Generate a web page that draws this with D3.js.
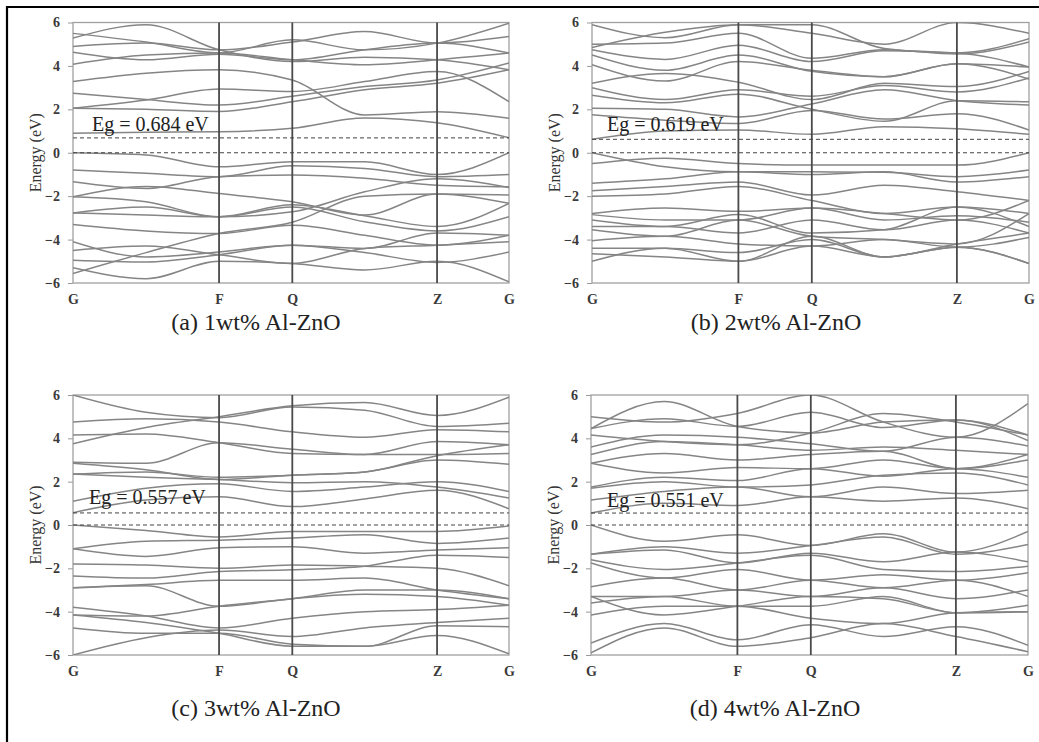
<!DOCTYPE html>
<html>
<head>
<meta charset="utf-8">
<script src="https://cdn.jsdelivr.net/npm/d3@7"></script>
<style>
  body { margin: 0; background: #fff; }
  svg text { font-family: "Liberation Serif", "Times New Roman", serif; }
</style>
</head>
<body>
<svg id="chart" width="1039" height="742"></svg>
<script>
// k-path and axis labels
const kNames = ["G", "F", "Q", "Z", "G"];
const kNodes = [0, 0.335, 0.503, 0.835, 1];
const kSamples = [0, 0.1675, 0.335, 0.503, 0.669, 0.835, 1];
const energyTicks = [-6, -4, -2, 0, 2, 4, 6];

const titles = ["(a) 1wt% Al-ZnO", "(b) 2wt% Al-ZnO", "(c) 3wt% Al-ZnO", "(d) 4wt% Al-ZnO"];
const gaps = [0.684, 0.619, 0.557, 0.551];

// band energies (eV) at kSamples
const bandsA = [
  [0.90, 0.95, 0.97, 1.13, 1.60, 1.38, 0.69],
  [2.05, 2.00, 1.90, 2.35, 2.90, 3.20, 3.82],
  [2.05, 2.43, 2.94, 2.82, 3.28, 3.74, 2.35],
  [2.74, 2.45, 2.20, 2.60, 3.05, 3.35, 4.13],
  [3.28, 3.66, 3.82, 3.35, 1.74, 1.89, 1.59],
  [4.08, 4.50, 4.60, 4.28, 4.05, 4.28, 4.59],
  [4.63, 4.28, 4.54, 4.28, 4.74, 5.05, 4.59],
  [4.90, 5.05, 4.74, 5.10, 5.58, 5.05, 5.35],
  [5.28, 5.90, 4.74, 4.20, 4.40, 4.28, 3.82],
  [5.50, 5.10, 4.60, 5.20, 4.74, 5.05, 5.97],
  [0.00, -0.10, -0.65, -0.41, -0.42, -1.00, 0.00],
  [-0.80, -0.95, -1.10, -0.60, -0.72, -1.10, -1.00],
  [-1.34, -1.65, -1.10, -1.03, -1.18, -1.50, -1.57],
  [-2.03, -1.55, -1.88, -2.26, -2.87, -1.90, -1.95],
  [-2.03, -2.26, -2.95, -2.72, -1.80, -1.20, -1.60],
  [-2.77, -2.50, -2.95, -2.40, -2.90, -3.40, -2.33],
  [-2.77, -2.87, -2.95, -2.50, -3.18, -3.60, -2.95],
  [-3.30, -3.60, -3.72, -3.34, -3.80, -4.26, -3.80],
  [-4.10, -4.80, -4.57, -4.26, -4.60, -5.05, -4.57],
  [-4.50, -4.30, -4.70, -5.10, -4.41, -4.26, -4.10],
  [-5.56, -4.60, -3.72, -3.20, -2.00, -1.90, -2.33],
  [-5.30, -5.80, -5.00, -5.10, -5.40, -5.00, -5.95],
  [-4.95, -5.03, -4.70, -4.26, -4.41, -3.70, -3.80]
];

const bandsB = [
  [0.62, 1.00, 1.05, 0.85, 1.20, 1.10, 0.85],
  [1.75, 1.50, 1.35, 1.95, 1.55, 1.80, 1.05],
  [2.05, 2.00, 1.65, 2.25, 2.90, 2.40, 2.20],
  [2.65, 2.30, 2.70, 2.00, 1.45, 2.40, 2.35],
  [3.00, 2.45, 2.90, 2.60, 3.10, 2.80, 3.45],
  [3.20, 3.65, 3.25, 2.45, 3.20, 3.05, 3.75],
  [4.05, 3.30, 4.20, 3.80, 3.50, 4.10, 3.95],
  [4.50, 3.80, 4.50, 3.75, 3.50, 4.10, 3.40],
  [4.75, 4.30, 4.95, 4.20, 4.70, 4.60, 3.95],
  [5.00, 5.05, 5.50, 4.35, 4.75, 4.55, 5.10],
  [4.85, 5.55, 5.90, 5.50, 5.00, 6.00, 5.50],
  [5.90, 5.30, 5.90, 5.90, 4.80, 4.60, 5.25],
  [0.00, -0.65, -0.88, -0.88, -0.90, -1.10, -0.80],
  [-0.50, -0.25, -0.50, -0.57, -0.57, -0.57, 0.00],
  [-1.40, -1.20, -0.88, -1.00, -0.88, -1.35, -1.10],
  [-1.75, -1.55, -1.35, -1.95, -1.50, -1.80, -2.20],
  [-2.00, -1.90, -1.55, -2.20, -2.80, -2.50, -2.80],
  [-2.80, -2.55, -2.70, -2.55, -3.10, -2.90, -3.20],
  [-2.85, -3.10, -3.10, -2.55, -2.80, -3.10, -2.20],
  [-3.10, -3.40, -2.85, -3.70, -3.55, -2.50, -3.40],
  [-3.40, -3.40, -3.70, -3.10, -3.55, -3.10, -3.70],
  [-3.55, -3.85, -3.10, -3.85, -4.00, -4.20, -2.80],
  [-4.05, -3.85, -4.20, -4.30, -4.00, -4.35, -3.90],
  [-4.40, -4.40, -4.60, -4.00, -4.80, -4.35, -5.10],
  [-4.65, -4.80, -5.00, -4.30, -4.80, -4.20, -3.70],
  [-5.00, -4.40, -5.00, -3.85, -4.80, -4.35, -5.10]
];

const bandsC = [
  [0.57, 1.15, 1.30, 0.85, 1.20, 1.60, 0.75],
  [1.10, 1.70, 1.90, 1.55, 1.75, 2.00, 1.55],
  [2.35, 2.20, 2.10, 1.95, 2.00, 1.75, 1.25],
  [2.85, 2.55, 2.10, 2.30, 2.45, 3.00, 2.80],
  [2.90, 2.85, 3.80, 3.50, 3.25, 3.25, 3.30],
  [3.75, 4.50, 5.00, 5.50, 5.65, 5.05, 5.90],
  [4.15, 4.20, 3.80, 3.30, 3.25, 3.85, 3.70],
  [4.75, 4.90, 4.75, 4.30, 4.05, 4.40, 4.30],
  [6.00, 5.20, 4.95, 5.45, 5.30, 4.55, 4.70],
  [2.35, 2.45, 2.20, 2.30, 2.45, 3.20, 3.70],
  [0.00, -0.25, -0.55, -0.30, -0.30, -0.30, -0.05],
  [-1.10, -0.75, -0.70, -0.60, -0.45, -0.85, -0.60],
  [-1.10, -1.45, -1.05, -1.00, -1.30, -1.15, -1.05],
  [-1.80, -1.85, -2.00, -1.85, -1.90, -2.00, -2.80],
  [-2.35, -2.45, -2.15, -2.07, -1.90, -1.40, -1.50],
  [-2.90, -2.75, -2.55, -2.55, -2.45, -3.00, -3.40],
  [-2.90, -2.80, -3.75, -3.40, -3.20, -3.30, -3.70],
  [-3.80, -4.20, -4.75, -4.30, -4.00, -3.90, -3.70],
  [-4.15, -4.20, -3.75, -3.40, -3.00, -3.00, -3.40],
  [-4.75, -5.00, -5.00, -5.50, -5.60, -4.65, -4.70],
  [-6.00, -5.20, -4.85, -5.15, -4.75, -4.50, -4.30],
  [-4.15, -4.50, -5.00, -5.60, -5.60, -5.10, -5.95]
];

const bandsD = [
  [0.55, 1.00, 0.90, 1.30, 1.10, 1.25, 0.75],
  [1.15, 1.55, 1.75, 1.30, 1.75, 1.45, 1.60],
  [1.70, 2.00, 1.75, 1.85, 2.30, 2.40, 1.85],
  [1.75, 2.20, 2.05, 2.60, 2.25, 2.60, 2.20],
  [2.85, 2.40, 2.65, 2.60, 3.00, 2.60, 3.25],
  [2.85, 3.30, 3.00, 3.25, 3.40, 2.60, 3.00],
  [3.25, 3.85, 3.70, 3.45, 3.60, 3.45, 3.25],
  [3.60, 4.15, 4.05, 3.75, 3.40, 4.05, 3.65],
  [4.15, 3.85, 3.70, 4.25, 5.15, 4.75, 4.15],
  [4.45, 4.90, 4.55, 5.20, 4.50, 4.85, 3.90],
  [5.00, 4.75, 5.15, 6.00, 4.75, 4.05, 5.60],
  [4.45, 5.70, 4.55, 4.25, 4.75, 4.85, 4.15],
  [0.00, -0.75, -0.45, -0.95, -0.40, -1.25, -0.30],
  [-1.35, -1.00, -1.30, -0.95, -0.55, -1.35, -0.90],
  [-1.35, -1.15, -1.75, -1.30, -1.70, -1.25, -1.70],
  [-1.60, -2.05, -1.75, -1.40, -2.05, -2.15, -1.90],
  [-1.75, -2.45, -2.05, -2.55, -2.30, -2.55, -2.20],
  [-2.85, -2.45, -3.00, -2.55, -2.90, -2.55, -3.30],
  [-3.30, -3.30, -3.00, -3.30, -2.90, -3.40, -3.00],
  [-3.60, -3.30, -3.75, -3.75, -3.30, -4.05, -3.70],
  [-4.15, -3.75, -3.75, -4.30, -4.55, -4.05, -4.00],
  [-3.30, -4.15, -3.75, -3.30, -3.40, -4.05, -4.00],
  [-5.45, -4.55, -5.30, -4.60, -5.15, -4.70, -5.55],
  [-5.90, -4.75, -5.60, -5.20, -4.55, -5.15, -5.85]
];

const allBands = [bandsA, bandsB, bandsC, bandsD];

// panel frames in page pixels
const boxes = [
  { x0: 73, x1: 509, y0: 22.5, y1: 283, tx: 256, ty: 330, ex: 92, ey: 131 },
  { x0: 592, x1: 1029, y0: 22.5, y1: 283, tx: 776, ty: 330, ex: 607, ey: 131 },
  { x0: 73, x1: 509, y0: 395, y1: 655, tx: 256, ty: 716, ex: 89, ey: 504 },
  { x0: 591, x1: 1028, y0: 395, y1: 655, tx: 775, ty: 716, ex: 607, ey: 507 }
];

const svg = d3.select("#chart");

// outer frame of the figure
svg.append("line").attr("x1", 6).attr("x2", 1039).attr("y1", 7).attr("y2", 7)
  .attr("stroke", "#000").attr("stroke-width", 2.2);
svg.append("line").attr("x1", 7).attr("x2", 7).attr("y1", 6).attr("y2", 742)
  .attr("stroke", "#000").attr("stroke-width", 2.2);

boxes.forEach(function (b, i) {
  const x = d3.scaleLinear().domain([0, 1]).range([b.x0, b.x1]);
  const y = d3.scaleLinear().domain([-6, 6]).range([b.y1, b.y0]);
  const g = svg.append("g");

  g.append("clipPath").attr("id", "clip" + i)
    .append("rect").attr("x", b.x0).attr("y", b.y0)
    .attr("width", b.x1 - b.x0).attr("height", b.y1 - b.y0);

  // y axis
  const yAxis = d3.axisLeft(y).tickValues(energyTicks).tickSize(5).tickPadding(8);
  const ya = g.append("g").attr("transform", "translate(" + b.x0 + ",0)").call(yAxis);
  ya.select(".domain").remove();
  ya.selectAll("line").attr("stroke", "#999");
  ya.selectAll("text").attr("font-size", 14).attr("font-weight", "bold")
    .attr("fill", "#3a3a3a").style("font-family", "Liberation Serif");

  // x axis labels
  const xAxis = d3.axisBottom(x).tickValues(kNodes).tickFormat(function (d, j) { return kNames[j]; })
    .tickSize(0).tickPadding(11);
  const xa = g.append("g").attr("transform", "translate(0," + b.y1 + ")").call(xAxis);
  xa.select(".domain").remove();
  xa.selectAll("text").attr("font-size", 14).attr("font-weight", "bold")
    .attr("fill", "#3a3a3a").style("font-family", "Liberation Serif");

  // frame
  g.append("rect").attr("x", b.x0).attr("y", b.y0)
    .attr("width", b.x1 - b.x0).attr("height", b.y1 - b.y0)
    .attr("fill", "none").attr("stroke", "#a0a0a0").attr("stroke-width", 1.3);

  // bands
  const line = d3.line()
    .x(function (d, j) { return x(kSamples[j]); })
    .y(function (d) { return y(d); })
    .curve(d3.curveMonotoneX);
  g.append("g").attr("clip-path", "url(#clip" + i + ")")
    .selectAll("path").data(allBands[i]).enter().append("path")
    .attr("d", line).attr("fill", "none")
    .attr("stroke", "#858585").attr("stroke-width", 1.5);

  // high-symmetry lines
  g.selectAll(".kline").data(kNodes.slice(1, 4)).enter().append("line")
    .attr("x1", function (d) { return x(d); }).attr("x2", function (d) { return x(d); })
    .attr("y1", b.y0).attr("y2", b.y1)
    .attr("stroke", "#4a4a4a").attr("stroke-width", 1.8);

  // Fermi level and gap lines
  g.selectAll(".dash").data([0, gaps[i]]).enter().append("line")
    .attr("x1", b.x0).attr("x2", b.x1)
    .attr("y1", function (d) { return y(d); }).attr("y2", function (d) { return y(d); })
    .attr("stroke", "#444").attr("stroke-width", 1).attr("stroke-dasharray", "4,3");

  g.append("text").attr("x", b.ex).attr("y", b.ey)
    .attr("font-size", 20).attr("fill", "#222")
    .text("Eg = " + gaps[i] + " eV");

  g.append("text")
    .attr("transform", "translate(" + (b.x0 - 32) + "," + ((b.y0 + b.y1) / 2) + ") rotate(-90)")
    .attr("text-anchor", "middle").attr("font-size", 16).attr("fill", "#333")
    .text("Energy (eV)");

  g.append("text").attr("x", b.tx).attr("y", b.ty)
    .attr("text-anchor", "middle").attr("font-size", 24).attr("fill", "#222")
    .text(titles[i]);
});
</script>
</body>
</html>
